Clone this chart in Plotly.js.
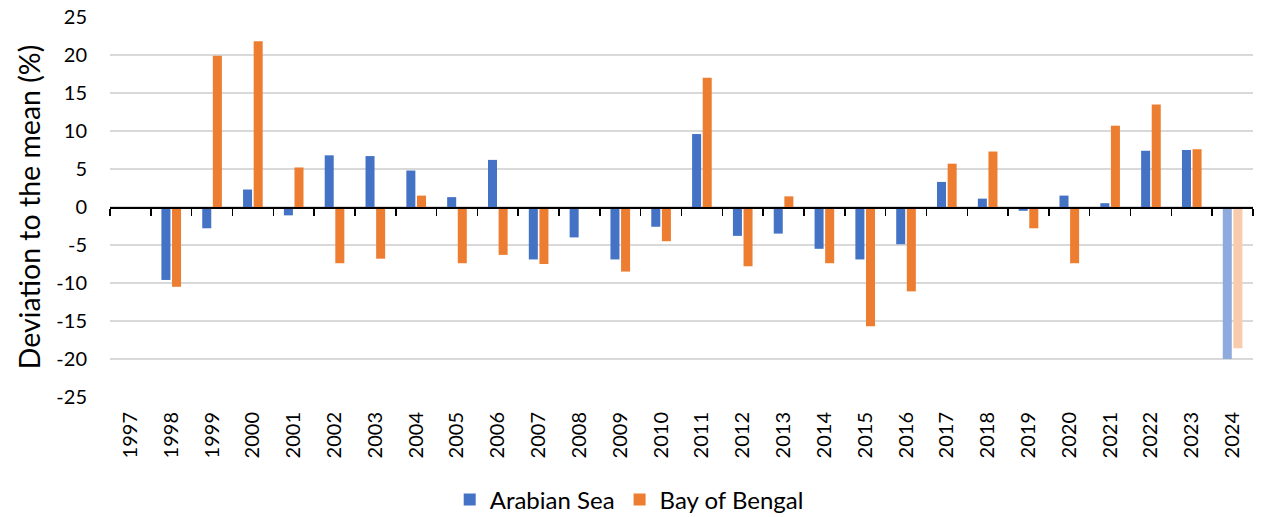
<!DOCTYPE html>
<html>
<head>
<meta charset="utf-8">
<script src="https://cdn.plot.ly/plotly-3.0.1.min.js"></script>
<style>html,body{margin:0;padding:0;background:#fff;}#chart{width:1266px;height:517px;}</style>
</head>
<body>
<div id="chart"></div>
<script>
const years = ['1997','1998','1999','2000','2001','2002','2003','2004','2005','2006','2007','2008','2009','2010','2011','2012','2013','2014','2015','2016','2017','2018','2019','2020','2021','2022','2023','2024'];
const arabianSea = [null,-9.6,-2.8,2.3,-1.1,6.8,6.7,4.8,1.3,6.2,-6.9,-4.0,-6.9,-2.6,9.6,-3.8,-3.5,-5.5,-6.9,-4.9,3.3,1.1,-0.5,1.5,0.5,7.4,7.5,-20.0];
const bayOfBengal = [null,-10.5,19.9,21.8,5.2,-7.4,-6.8,1.5,-7.4,-6.3,-7.5,-0.1,-8.5,-4.5,17.0,-7.8,1.4,-7.4,-15.7,-11.1,5.7,7.3,-2.8,-7.4,10.7,13.5,7.6,-18.6];
const yTickValues = [25,20,15,10,5,0,-5,-10,-15,-20,-25];
const yTickLabels = ['25','20','15','10','5','0','-5','-10','-15','-20','-25'];
const provisionalYear = '2024';

const FONT = 'Lato, "Open Sans", sans-serif';
const blue = '#4472C4', blueLight = '#8FAADC';
const orange = '#ED7D31', orangeLight = '#F8CBAD';

const traces = [
  {
    type: 'bar', name: 'Arabian Sea', x: years, y: arabianSea,
    marker: { color: years.map(y => y === provisionalYear ? blueLight : blue), line: { width: 0 } },
    hoverinfo: 'x+y+name'
  },
  {
    type: 'bar', name: 'Bay of Bengal', x: years, y: bayOfBengal,
    marker: { color: years.map(y => y === provisionalYear ? orangeLight : orange), line: { width: 0 } },
    hoverinfo: 'x+y+name'
  },
  {
    type: 'scatter', mode: 'markers', x: years, y: years.map(() => null),
    xaxis: 'x2', yaxis: 'y', showlegend: false, hoverinfo: 'skip'
  }
];

const layout = {
  width: 1266, height: 517,
  margin: { l: 110, r: 13, t: 17, b: 120 },
  paper_bgcolor: '#fff', plot_bgcolor: '#fff',
  font: { family: FONT, size: 20, color: '#000' },
  barmode: 'group', bargap: 0.48, bargroupgap: 0.15,
  showlegend: true,
  legend: {
    orientation: 'h', xref: 'container', yref: 'container',
    x: 0.497, xanchor: 'center', y: 0.033, yanchor: 'middle',
    font: { family: FONT, size: 24, color: '#000' },
    itemclick: false, itemdoubleclick: false, traceorder: 'normal'
  },
  xaxis: {
    type: 'category', categoryorder: 'array', categoryarray: years,
    range: [-0.5, years.length - 0.5],
    showline: false, showgrid: false, zeroline: false, ticks: '',
    tickangle: -90, tickfont: { family: FONT, size: 20, color: '#000' },
    ticklabelstandoff: 10, fixedrange: true
  },
  xaxis2: {
    type: 'category', categoryorder: 'array', categoryarray: years,
    range: [-0.5, years.length - 0.5],
    overlaying: 'x', anchor: 'free', position: 0.5, side: 'bottom',
    showline: true, linecolor: '#000', linewidth: 1.5,
    ticks: 'outside', tickson: 'boundaries', ticklen: 7, tickwidth: 1.5, tickcolor: '#000',
    showticklabels: false, showgrid: false, zeroline: false, fixedrange: true
  },
  yaxis: {
    range: [-25, 25], tickmode: 'array', tickvals: yTickValues, ticktext: yTickLabels,
    showgrid: true, gridcolor: '#D9D9D9', gridwidth: 1.3,
    zeroline: false, showline: false, ticks: '',
    ticklabelstandoff: 22,
    tickfont: { family: FONT, size: 20, color: '#000' },
    title: { text: 'Deviation to the mean (%)', font: { family: FONT, size: 28.5, color: '#000' }, standoff: 7 },
    fixedrange: true
  }
};

Plotly.newPlot('chart', traces, layout, { displayModeBar: false, staticPlot: true });
</script>
</body>
</html>
